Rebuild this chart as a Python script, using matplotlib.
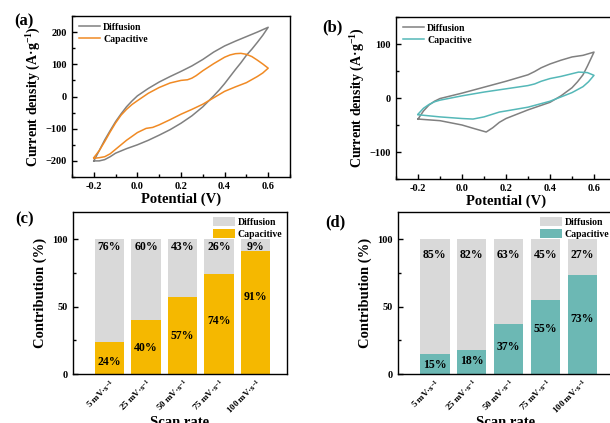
import numpy as np
import matplotlib
matplotlib.use('Agg')
import matplotlib.pyplot as plt
from matplotlib.ticker import AutoMinorLocator, MultipleLocator

plt.rcParams['font.family'] = ['Liberation Serif', 'DejaVu Serif']
plt.rcParams['font.weight'] = 'bold'
plt.rcParams['axes.labelweight'] = 'bold'
plt.rcParams['axes.linewidth'] = 1.0
plt.rcParams['mathtext.fontset'] = 'custom'
plt.rcParams['mathtext.rm'] = 'Liberation Serif:bold'
plt.rcParams['mathtext.bf'] = 'Liberation Serif:bold'
plt.rcParams['mathtext.it'] = 'Liberation Serif:bold:italic'
plt.rcParams['mathtext.default'] = 'bf'

# CV loops, panel (a): forward (upper) branch then reverse (lower) branch
a_diff_up_v = [-0.2, -0.175, -0.15, -0.125, -0.1, -0.075, -0.05, -0.025, 0.0, 0.05, 0.1, 0.15, 0.2, 0.25, 0.3, 0.35, 0.4, 0.45, 0.5, 0.55, 0.6]
a_diff_up_i = [-200, -168, -135, -106, -78, -54, -32, -14, 2, 25, 45, 62, 78, 95, 115, 138, 157, 172, 186, 200, 215]
a_diff_dn_v = [0.6, 0.575, 0.55, 0.525, 0.5, 0.475, 0.45, 0.425, 0.4, 0.375, 0.35, 0.3, 0.25, 0.2, 0.15, 0.1, 0.05, 0.0, -0.05, -0.1, -0.125, -0.15, -0.175, -0.2]
a_diff_dn_i = [215, 190, 168, 147, 128, 105, 84, 62, 40, 20, 2, -32, -60, -83, -103, -120, -136, -150, -162, -176, -187, -196, -200, -200]

a_cap_up_v = [-0.2, -0.175, -0.15, -0.125, -0.1, -0.075, -0.05, -0.025, 0.0, 0.05, 0.1, 0.15, 0.2, 0.23, 0.25, 0.27, 0.3, 0.35, 0.4, 0.425, 0.45, 0.475, 0.5, 0.525, 0.55, 0.575, 0.6]
a_cap_up_i = [-190, -168, -140, -110, -82, -58, -40, -25, -13, 10, 28, 42, 50, 52, 57, 65, 80, 102, 122, 129, 133, 134, 131, 124, 113, 101, 88]
a_cap_dn_v = [0.6, 0.575, 0.55, 0.5, 0.45, 0.4, 0.35, 0.3, 0.25, 0.2, 0.15, 0.1, 0.07, 0.04, 0.0, -0.05, -0.1, -0.125, -0.15, -0.175, -0.2]
a_cap_dn_i = [88, 73, 62, 43, 30, 16, -4, -24, -40, -55, -72, -88, -96, -99, -112, -136, -164, -178, -187, -190, -192]

# CV loops, panel (b)
b_diff_up_v = [-0.2, -0.175, -0.15, -0.125, -0.1, -0.05, 0.0, 0.1, 0.2, 0.3, 0.33, 0.36, 0.4, 0.45, 0.5, 0.55, 0.6]
b_diff_up_i = [-39, -24, -13, -6, -1, 4, 9, 20, 31, 43, 49, 56, 63, 70, 76, 79, 85]
b_diff_dn_v = [0.6, 0.585, 0.57, 0.55, 0.525, 0.5, 0.45, 0.4, 0.3, 0.2, 0.17, 0.14, 0.11, 0.05, 0.0, -0.1, -0.2]
b_diff_dn_i = [85, 72, 59, 43, 30, 19, 4, -8, -22, -38, -45, -55, -63, -56, -50, -42, -39]

b_cap_up_v = [-0.2, -0.175, -0.15, -0.125, -0.1, -0.05, 0.0, 0.1, 0.2, 0.3, 0.33, 0.36, 0.4, 0.45, 0.5, 0.53, 0.57, 0.6]
b_cap_up_i = [-30, -19, -12, -7, -4, 0, 4, 11, 17, 23, 26, 31, 36, 40, 45, 48, 47, 42]
b_cap_dn_v = [0.6, 0.575, 0.55, 0.5, 0.45, 0.4, 0.3, 0.2, 0.17, 0.1, 0.05, 0.0, -0.1, -0.2]
b_cap_dn_i = [42, 30, 21, 10, 2, -6, -17, -24, -26, -35, -39, -38, -35, -31]

# Capacitive / diffusion contribution (%)
scan_rates = ['5 mV·s$^{-1}$', '25 mV·s$^{-1}$', '50 mV·s$^{-1}$', '75 mV·s$^{-1}$', '100 mV·s$^{-1}$']
c_capacitive = [24, 40, 57, 74, 91]
c_diffusion = [76, 60, 43, 26, 9]
d_capacitive = [15, 18, 37, 55, 73]
d_diffusion = [85, 82, 63, 45, 27]

# where the percentage text sits inside each capacitive bar
c_cap_text_y = [9, 19, 28, 39, 57]
d_cap_text_y = [7, 10, 20, 33, 41]

GRAY = '#808080'
ORANGE = '#f08a24'
CYAN = '#55b8b8'
BAR_GRAY = '#d9d9d9'
YELLOW = '#f5b800'
TEAL = '#6cb8b4'

fig = plt.figure(figsize=(6.1, 4.23), dpi=100)
W, H = 610.0, 423.0


def add_axes(left, top, right, bottom):
    return fig.add_axes([left / W, 1 - bottom / H, (right - left) / W, (bottom - top) / H])


def style_ticks(ax):
    ax.tick_params(direction='in', which='both', labelsize=7.5, width=1.0)
    ax.tick_params(which='major', length=3.5)
    ax.tick_params(which='minor', length=2)
    for lab in ax.get_xticklabels() + ax.get_yticklabels():
        lab.set_fontweight('bold')


def cv_panel(ax, diff, cap, cap_color, ylim, ystep):
    v = diff[0] + diff[2]
    i = diff[1] + diff[3]
    ax.plot(v, i, color=GRAY, lw=1.1, label='Diffusion', solid_joinstyle='round')
    v = cap[0] + cap[2]
    i = cap[1] + cap[3]
    ax.plot(v, i, color=cap_color, lw=1.1, label='Capacitive', solid_joinstyle='round')
    ax.set_xlim(-0.3, 0.7)
    ax.set_ylim(*ylim)
    ax.xaxis.set_minor_locator(AutoMinorLocator(2))
    ax.yaxis.set_major_locator(MultipleLocator(ystep))
    ax.yaxis.set_minor_locator(AutoMinorLocator(2))
    ax.set_xticks([-0.2, 0.0, 0.2, 0.4, 0.6])
    ax.set_xticklabels(['-0.2', '0.0', '0.2', '0.4', '0.6'])
    ax.set_xlabel('Potential (V)', fontsize=10.5, labelpad=1)
    ax.set_ylabel('Current density (A·g$^{-1}$)', fontsize=10, labelpad=2)
    ax.legend(loc='upper left', frameon=False, handlelength=2.2,
              handletextpad=0.3, labelspacing=0.3, borderaxespad=0.3,
              prop={'weight': 'bold', 'size': 7})
    style_ticks(ax)


def bar_panel(ax, cap, diff, cap_color, cap_text_y, diff_text_y):
    x = np.arange(1, len(scan_rates) + 1)
    ax.bar(x, cap, width=0.8, color=cap_color, label='Capacitive', zorder=2)
    ax.bar(x, diff, width=0.8, bottom=cap, color=BAR_GRAY, label='Diffusion', zorder=2)
    for xi, c, ty in zip(x, cap, cap_text_y):
        ax.text(xi, ty, f'{c}%', ha='center', va='center', fontsize=8.5, fontweight='bold')
    for xi, d in zip(x, diff):
        ax.text(xi, diff_text_y, f'{d}%', ha='center', va='center', fontsize=8.5, fontweight='bold')
    ax.set_xlim(0, 5.86)
    ax.set_ylim(0, 120)
    ax.set_yticks([0, 50, 100])
    ax.yaxis.set_minor_locator(AutoMinorLocator(2))
    ax.set_xticks(x)
    ax.set_xticklabels(scan_rates, rotation=45, ha='right', rotation_mode='anchor')
    ax.set_xlabel('Scan rate', fontsize=10.5, labelpad=0)
    ax.set_ylabel('Contribution (%)', fontsize=10.5, labelpad=4)
    h, l = ax.get_legend_handles_labels()
    ax.legend(h[::-1], l[::-1], loc='upper right', frameon=False, handlelength=2.2,
              handleheight=1.1, handletextpad=0.3, labelspacing=0.2, borderaxespad=0.1,
              prop={'weight': 'bold', 'size': 7})
    style_ticks(ax)
    ax.tick_params(axis='x', which='minor', bottom=False)
    ax.tick_params(axis='x', labelsize=6.5, pad=2)


ax_a = add_axes(72, 16, 290, 177)
cv_panel(ax_a, (a_diff_up_v, a_diff_up_i, a_diff_dn_v, a_diff_dn_i),
         (a_cap_up_v, a_cap_up_i, a_cap_dn_v, a_cap_dn_i), ORANGE, (-250, 250), 100)

ax_b = add_axes(396, 17, 616, 179)
cv_panel(ax_b, (b_diff_up_v, b_diff_up_i, b_diff_dn_v, b_diff_dn_i),
         (b_cap_up_v, b_cap_up_i, b_cap_dn_v, b_cap_dn_i), CYAN, (-150, 150), 100)

ax_c = add_axes(73, 212, 287, 374)
bar_panel(ax_c, c_capacitive, c_diffusion, YELLOW, c_cap_text_y, 94)

ax_d = add_axes(398, 212, 614, 374)
bar_panel(ax_d, d_capacitive, d_diffusion, TEAL, d_cap_text_y, 88)

for txt, px, py in [('(a)', 14, 21), ('(b)', 322, 27), ('(c)', 15, 219), ('(d)', 325, 222)]:
    fig.text(px / W, 1 - py / H, txt, fontsize=12, fontweight='bold', va='center', ha='left')

fig.savefig('out.png', dpi=100)
